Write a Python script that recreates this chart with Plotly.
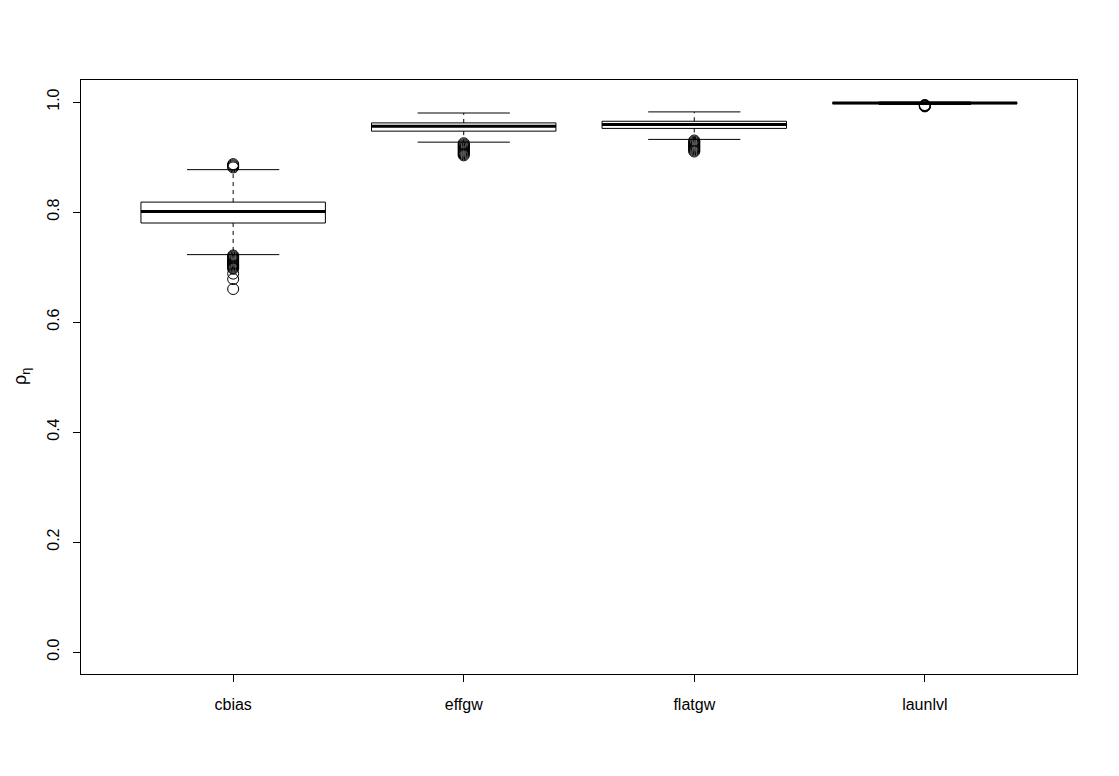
import plotly.graph_objects as go

categories = ["cbias", "effgw", "flatgw", "launlvl"]
q1 = [0.780, 0.947, 0.952, 0.9970]
median = [0.801, 0.956, 0.959, 0.9982]
q3 = [0.818, 0.962, 0.965, 0.9990]
lower_whisker = [0.7225, 0.927, 0.932, 0.9955]
upper_whisker = [0.877, 0.980, 0.982, 1.0000]

outliers_cbias = [0.887, 0.885, 0.883, 0.881, 0.721, 0.719, 0.717, 0.715, 0.713,
                  0.711, 0.709, 0.707, 0.705, 0.703, 0.701, 0.699, 0.697, 0.688,
                  0.678, 0.660]
outliers_effgw = [0.925, 0.923, 0.921, 0.919, 0.917, 0.915, 0.913, 0.911, 0.909,
                  0.907, 0.905, 0.903]
outliers_flatgw = [0.930, 0.928, 0.926, 0.924, 0.922, 0.920, 0.918, 0.916, 0.914,
                   0.912, 0.910]
outliers_launlvl = [0.9945, 0.9938, 0.9932, 0.9926, 0.9920]
outliers = [outliers_cbias, outliers_effgw, outliers_flatgw, outliers_launlvl]

yticks = [0.0, 0.2, 0.4, 0.6, 0.8, 1.0]
yticklabels = ["0.0", "0.2", "0.4", "0.6", "0.8", "1.0"]

BOXHALF = 0.4
CAPHALF = 0.2

fig = go.Figure()
for i, cat in enumerate(categories):
    pos = i + 1
    # box rectangle
    fig.add_trace(go.Scatter(
        x=[pos - BOXHALF, pos + BOXHALF, pos + BOXHALF, pos - BOXHALF, pos - BOXHALF],
        y=[q1[i], q1[i], q3[i], q3[i], q1[i]],
        mode="lines", line=dict(color="black", width=1),
        fill="toself", fillcolor="white", hoverinfo="skip", showlegend=False))
    # dashed whiskers
    fig.add_trace(go.Scatter(
        x=[pos, pos, None, pos, pos],
        y=[q3[i], upper_whisker[i], None, q1[i], lower_whisker[i]],
        mode="lines", line=dict(color="black", width=1, dash="4px,4px"),
        hoverinfo="skip", showlegend=False))
    # caps
    fig.add_trace(go.Scatter(
        x=[pos - CAPHALF, pos + CAPHALF, None, pos - CAPHALF, pos + CAPHALF],
        y=[upper_whisker[i], upper_whisker[i], None, lower_whisker[i], lower_whisker[i]],
        mode="lines", line=dict(color="black", width=1),
        hoverinfo="skip", showlegend=False))
    # median
    fig.add_trace(go.Scatter(
        x=[pos - BOXHALF, pos + BOXHALF],
        y=[median[i], median[i]],
        mode="lines", line=dict(color="black", width=3),
        hoverinfo="skip", showlegend=False))
    # outliers
    fig.add_trace(go.Scatter(
        x=[pos] * len(outliers[i]), y=outliers[i],
        mode="markers",
        marker=dict(symbol="circle-open", size=11, color="black",
                    line=dict(color="black", width=1)),
        showlegend=False))

font = dict(family="Liberation Sans, Arial, sans-serif", size=16, color="black")

fig.update_layout(
    width=1103, height=760,
    margin=dict(l=73, r=34, t=72, b=94),
    paper_bgcolor="white", plot_bgcolor="white",
    font=font,
    xaxis=dict(range=[0.34, 4.66], tickmode="array",
               tickvals=[1, 2, 3, 4], ticktext=categories,
               showgrid=False, zeroline=False,
               showline=True, linecolor="black", linewidth=1, mirror=True,
               ticks="outside", ticklen=7, tickcolor="black",
               ticklabelstandoff=9, tickfont=font),
    yaxis=dict(range=[-0.04, 1.04], tickmode="array",
               tickvals=yticks, ticktext=yticklabels,
               showgrid=False, zeroline=False,
               showline=True, linecolor="black", linewidth=1, mirror=True,
               ticks="outside", ticklen=7, tickcolor="black",
               tickangle=-90, ticklabelstandoff=8, tickfont=font),
    annotations=[dict(text="ρ<sub>η</sub>", xref="paper", yref="paper",
                      x=(21 - 81) / 996, y=0.5, xanchor="center", yanchor="middle",
                      textangle=-90, showarrow=False, borderpad=0,
                      font=dict(family="Liberation Sans, Arial, sans-serif", size=18,
                                color="black"))],
)

fig.write_html("out.html")
